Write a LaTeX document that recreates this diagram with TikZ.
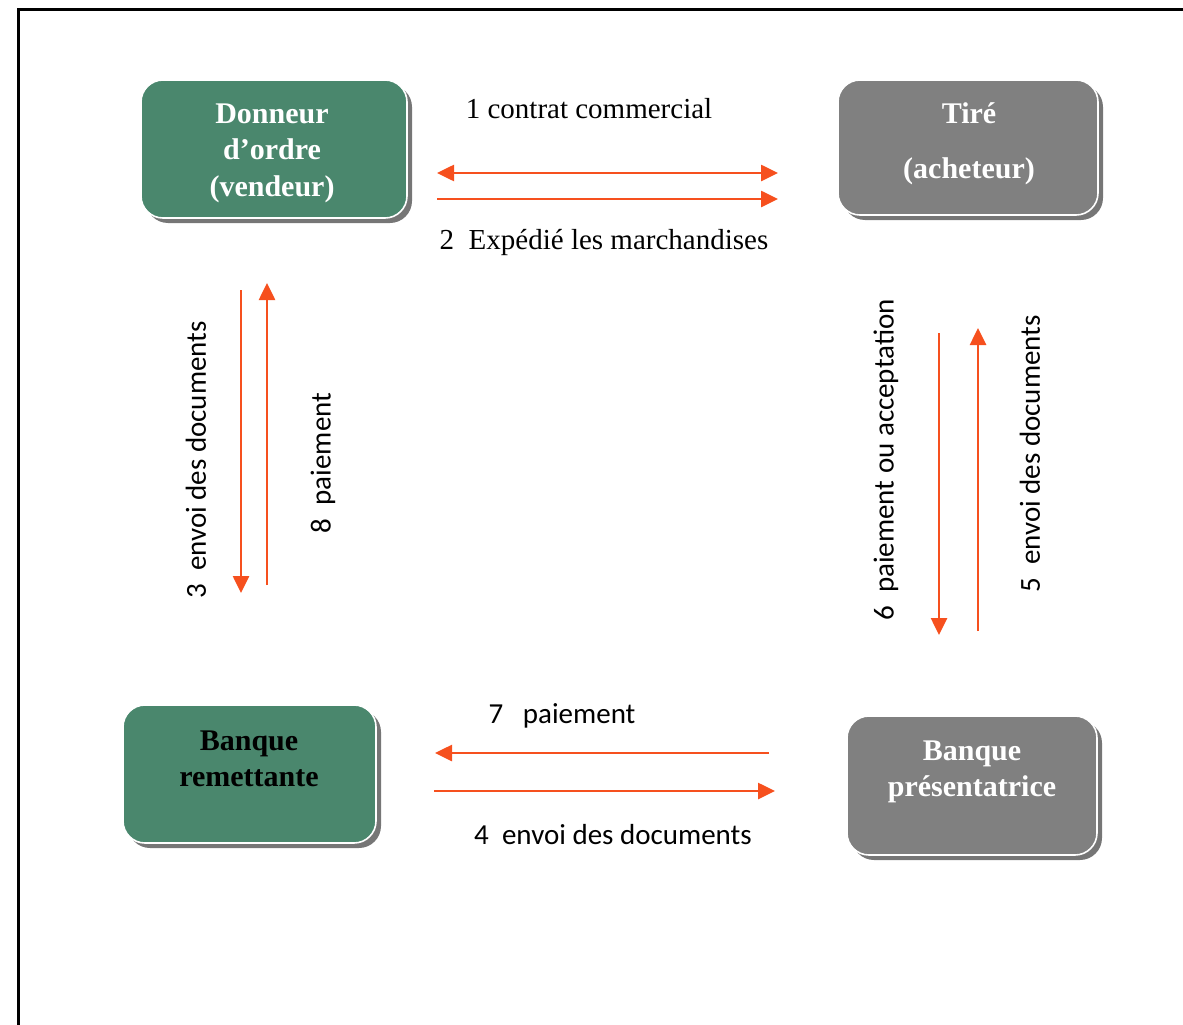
\documentclass[tikz,border=0pt]{standalone}
\usepackage{fontspec}
\setmainfont{Liberation Serif}
\newfontfamily\calfont{Carlito}
\usetikzlibrary{arrows.meta}
\usetikzlibrary{shadows}
\usepackage{xcolor}
\definecolor{boxgreen}{RGB}{74,135,109}
\definecolor{boxgray}{RGB}{128,128,128}
\definecolor{shadgray}{RGB}{118,118,118}
\definecolor{flow}{RGB}{246,80,30}

\begin{document}
\begin{tikzpicture}[x=1pt,y=-1pt,
  box/.style={rounded corners=22pt, draw=white, line width=1.6pt, inner sep=0pt,
    drop shadow={shadow xshift=5pt, shadow yshift=-5pt, fill=shadgray, opacity=1}},
  boxtxt/.style={font=\fontsize{30}{36.5}\selectfont\bfseries, align=center, inner sep=0pt},
  flw/.style={flow, line width=2.6pt, -{Triangle[length=17pt,width=16pt]}},
  tlbl/.style={font=\fontsize{29}{34}\selectfont, inner sep=0pt},
  clbl/.style={font=\calfont\fontsize{29}{34}\selectfont, inner sep=0pt}]
\useasboundingbox (0,0) rectangle (1183,1025);
\draw[line width=3pt] (18,1030) -- (18,10) -- (1190,10);

% boites
\node[box, fill=boxgreen, minimum width=266pt, minimum height=138pt] (don) at (274,149) {};
\node[box, fill=boxgray, minimum width=260pt, minimum height=135pt] (tire) at (968,147.5) {};
\node[box, fill=boxgreen, minimum width=253pt, minimum height=138pt] (rem) at (249.5,774) {};
\node[box, fill=boxgray, minimum width=250pt, minimum height=139pt] (pres) at (972,785.5) {};

\node[boxtxt, white] (donT) at (272,153) {Donneur\\d'ordre\\(vendeur)};
\node[boxtxt, white] (tireT) at (969,144) {Tiré\\[18pt](acheteur)};
\node[boxtxt, black] (remT) at (249,759) {Banque\\remettante};
\node[boxtxt, white] (presT) at (972,772) {Banque\\présentatrice};

% extremites des fleches
\coordinate (a1l) at (437,173); \coordinate (a1r) at (778,173);
\coordinate (a2l) at (437,199); \coordinate (a2r) at (778,199);
\coordinate (a3t) at (241,290); \coordinate (a3b) at (241,593);
\coordinate (a8b) at (267,585); \coordinate (a8t) at (267,283);
\coordinate (a6t) at (939,333); \coordinate (a6b) at (939,635);
\coordinate (a5b) at (978,631); \coordinate (a5t) at (978,328);
\coordinate (a7r) at (769,753); \coordinate (a7l) at (435,753);
\coordinate (a4l) at (434,791); \coordinate (a4r) at (775,791);

\draw[flw, {Triangle[length=17pt,width=16pt]}-{Triangle[length=17pt,width=16pt]}] (a1l) -- (a1r);
\draw[flw] (a2l) -- (a2r);
\draw[flw] (a3t) -- (a3b);
\draw[flw] (a8b) -- (a8t);
\draw[flw] (a6t) -- (a6b);
\draw[flw] (a5b) -- (a5t);
\draw[flw] (a7r) -- (a7l);
\draw[flw] (a4l) -- (a4r);

% textes
\node[tlbl] (l1) at (589,109) {1 contrat commercial};
\node[tlbl] (l2) at (604,243) {2\ \ Expédié les marchandises};
\node[clbl, rotate=90] (l3) at (196,460) {3\ \ envoi des documents};
\node[clbl, rotate=90] (l8) at (323,463) {8\ \ paiement};
\node[clbl, rotate=90] (l6) at (886,460) {6\ \ paiement ou acceptation};
\node[clbl, rotate=90] (l5) at (1030,454) {5\ \ envoi des documents};
\node[clbl] (l7) at (562,716) {7\ \ \ paiement};
\node[clbl] (l4) at (613,835) {4\ \ envoi des documents};
\end{tikzpicture}
\end{document}
